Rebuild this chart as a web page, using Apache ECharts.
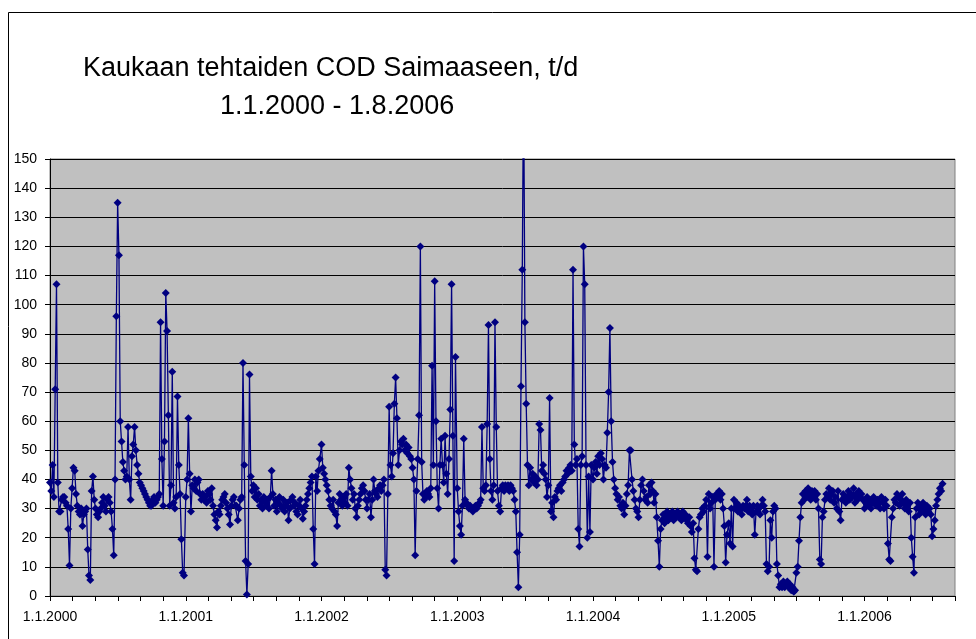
<!DOCTYPE html>
<html>
<head>
<meta charset="utf-8">
<script src="https://cdn.jsdelivr.net/npm/echarts@6/dist/echarts.min.js"></script>
<style>
  html, body { margin: 0; padding: 0; background: #fff; }
  #chart { width: 976px; height: 639px; }
</style>
</head>
<body>
<div id="chart"></div>
<script>
"use strict"
// COD load t/d, one reading every 3.5 days from 1.1. of each year
const year2000 = [
    39, 36, 45, 34, 71, 107, 39, 29, 29, 33, 34, 34, 32,
    31, 23, 10.5, 30, 37, 44, 43, 35, 31, 29, 28, 30, 24,
    28, 29, 30, 16, 7, 5.5, 36, 41, 33, 30, 28, 27, 29,
    30, 32, 34, 31, 29, 33, 34, 32, 29, 23, 14, 40, 96,
    135, 117, 60, 53, 46, 43, 40, 41, 58, 40, 33, 48, 52,
    58, 50, 45, 42, 39, 38, 37, 36, 35, 34, 33, 32, 31,
    31, 33, 34, 32, 33, 34, 35, 94, 47, 31, 53, 104, 91,
    62, 31, 38, 77, 32, 30, 34, 68.5, 45, 35, 19.5, 8, 7
];
const year2001 = [
    34, 40, 61, 42, 29, 38, 37, 40, 36, 39, 40, 35, 33,
    35, 33, 34, 32, 36, 35, 33, 37, 31, 28, 26, 23.5, 29,
    28, 31, 33, 34, 35, 32, 30, 28, 24.5, 31, 33, 34, 31,
    31, 26, 30, 33, 34, 80, 45, 12, 0.5, 11, 76, 41, 36,
    38, 34, 37, 33, 35, 31, 33, 30, 34, 32, 31, 33, 30,
    34, 43, 35, 31, 33, 29, 32, 34, 31, 30, 33, 29, 31,
    32, 26, 30, 33, 34, 31, 32, 29, 28, 31, 33, 30, 26.5,
    29, 31, 33, 35, 37, 39, 41, 23, 11, 41, 36, 43, 47
];
const year2002 = [
    52, 44, 42, 40, 38, 36, 33, 31, 30, 33, 29, 28, 24,
    32, 35, 33, 31, 34, 32, 35, 31, 44, 40, 37, 33, 35,
    30, 27, 31, 33, 35, 37, 38, 36, 33, 30, 33, 35, 27,
    33, 40, 36, 35, 34, 37, 38, 36, 38, 40, 9, 7, 35,
    65, 45, 41, 49, 66, 75, 61, 45, 50, 53, 52, 54, 50,
    52, 49, 51, 48, 47, 44, 40, 14, 36, 47, 62, 120, 46,
    35, 33, 34, 36, 35, 34, 37, 79, 45, 108, 60, 37, 30,
    45, 54, 45, 39, 55, 42, 35, 47, 64, 107, 55, 12, 82
];
const year2003 = [
    37, 29, 24, 21, 31, 54, 33, 32, 31, 30, 31, 30, 29,
    30, 31, 30, 31, 32, 33, 58, 37, 36, 38, 59, 93, 47,
    36, 33, 38, 94, 58, 36, 31, 29, 37, 38, 36, 38, 37,
    38, 36, 38, 37, 36, 33, 29, 15, 3, 21, 72, 112, 180,
    94, 66, 45, 38, 44, 40, 42, 39, 41, 38, 40, 59, 57,
    43, 45, 42, 40, 34, 38, 68, 29, 32, 27, 34, 33, 36,
    37, 38, 36, 39, 40, 41, 43, 42, 44, 45, 43, 112, 52,
    45, 47, 23, 17, 45, 48, 120, 107, 45, 20, 41, 22, 45
];
const year2004 = [
    40, 44, 46, 42, 48, 45, 49, 47, 40, 45, 44, 56, 70,
    92, 60, 46, 40, 37, 35, 33, 34, 31, 30, 32, 28, 31,
    35, 38, 50, 50, 40, 36, 33, 30, 29, 27, 33, 38, 40,
    36, 33, 34, 32, 38, 35, 39, 36, 32, 35, 27, 19, 10,
    23, 26, 28, 25, 27, 29, 26, 28, 27, 29, 26, 28, 27,
    29, 27, 28, 26, 29, 27, 28, 26, 25, 27, 24, 22, 25,
    13, 9, 8.5, 23, 27, 28, 30, 29, 31, 33, 13.5, 35, 30,
    32, 34, 10, 33, 35, 34, 36, 33, 35, 30, 24, 11.5, 21
];
const year2005 = [
    25, 18, 30, 17, 33, 30, 32, 29, 31, 30, 28, 31, 30,
    31, 33, 29, 31, 30, 28, 31, 21, 29, 31, 30, 28, 31,
    33, 31, 29, 11, 8.5, 10, 26, 20, 29, 31, 30, 11, 7,
    3, 4, 3, 5, 3, 4, 5, 3, 4, 2, 3, 1.5, 2,
    8, 10, 19, 27, 32, 35, 33, 36, 34, 37, 35, 33, 36,
    34, 36, 33, 35, 30, 12.5, 11, 27, 29, 33, 35, 34, 37,
    33, 35, 36, 32, 34, 30, 36, 29, 26, 33, 35, 34, 32,
    34, 36, 33, 35, 34, 37, 32, 35, 33, 36, 34, 35, 33
];
const year2006 = [
    30, 32, 34, 31, 33, 30, 32, 34, 33, 31, 33, 32, 30,
    34, 32, 30, 33, 31, 18, 12.5, 12, 27, 30, 33, 32, 35,
    34, 31, 33, 35, 32, 30, 33, 31, 29, 32, 20, 13.5, 8,
    27, 30, 32, 28, 31, 29, 32, 30, 28, 31, 29, 30, 28,
    20.5, 23, 26, 31, 33, 35, 37, 36, 38.5
];
const yearArrays = [year2000, year2001, year2002, year2003, year2004, year2005, year2006];
const firstYear = 2000;
const stepDays = 3.5;
const yTicks = [0, 150, 10];          // min, max, step
const xMaxMonths = 80;                // 1.9.2006

const titleLine1 = 'Kaukaan tehtaiden COD Saimaaseen, t/d';
const titleLine2 = '1.1.2000 - 1.8.2006';

// x in months since 1.1.2000
function buildPoints() {
    var pts = [];
    yearArrays.forEach(function (vals, k) {
        vals.forEach(function (v, i) {
            pts.push([k * 12 + i * stepDays / 365.25 * 12, v]);
        });
    });
    return pts;
}

const FONT = '"Liberation Sans", Arial, sans-serif';
const chart = echarts.init(document.getElementById('chart'), null, { renderer: 'canvas' });

const option = {
    animation: false,
    backgroundColor: '#fff',
    grid: {
        left: 50, right: 21, top: 159, bottom: 43,
        show: true,
        backgroundColor: '#c0c0c0',
        borderColor: '#808080',
        borderWidth: 1
    },
    xAxis: {
        type: 'value',
        min: 0,
        max: xMaxMonths,
        interval: 2,
        axisLine: { show: true, onZero: false, lineStyle: { color: '#000', width: 1 } },
        axisTick: { show: true, length: 5, lineStyle: { color: '#000' } },
        axisLabel: {
            color: '#000', fontFamily: FONT, fontSize: 14, margin: 14,
            showMinLabel: true, showMaxLabel: true,
            formatter: function (v) {
                return (v % 12 === 0) ? '1.1.' + (firstYear + v / 12) : '';
            }
        },
        splitLine: { show: false }
    },
    yAxis: {
        type: 'value',
        min: yTicks[0],
        max: yTicks[1],
        interval: yTicks[2],
        axisLine: { show: true, lineStyle: { color: '#000', width: 1 } },
        axisTick: { show: true, length: 5, lineStyle: { color: '#000' } },
        axisLabel: { color: '#000', fontFamily: FONT, fontSize: 14, margin: 13 },
        splitLine: { show: true, lineStyle: { color: '#000', width: 1 } }
    },
    graphic: [
        {
            type: 'rect', z: -1, silent: true,
            shape: { x: 8.5, y: 12.5, width: 1000, height: 700 },
            style: { fill: 'none', stroke: '#000', lineWidth: 1 }
        },
        {
            type: 'text', left: 83, top: 55,
            style: { text: titleLine1, font: '27px ' + FONT, fill: '#000' }
        },
        {
            type: 'text', left: 220, top: 93,
            style: { text: titleLine2, font: '27px ' + FONT, fill: '#000' }
        }
    ],
    series: [{
        type: 'line',
        data: buildPoints(),
        clip: true,
        showAllSymbol: true,
        symbol: 'diamond',
        symbolSize: 8,
        itemStyle: { color: '#000080' },
        lineStyle: { color: '#000080', width: 1.3 }
    }]
};
chart.setOption(option);
console.log('chart ready');
</script>
</body>
</html>
